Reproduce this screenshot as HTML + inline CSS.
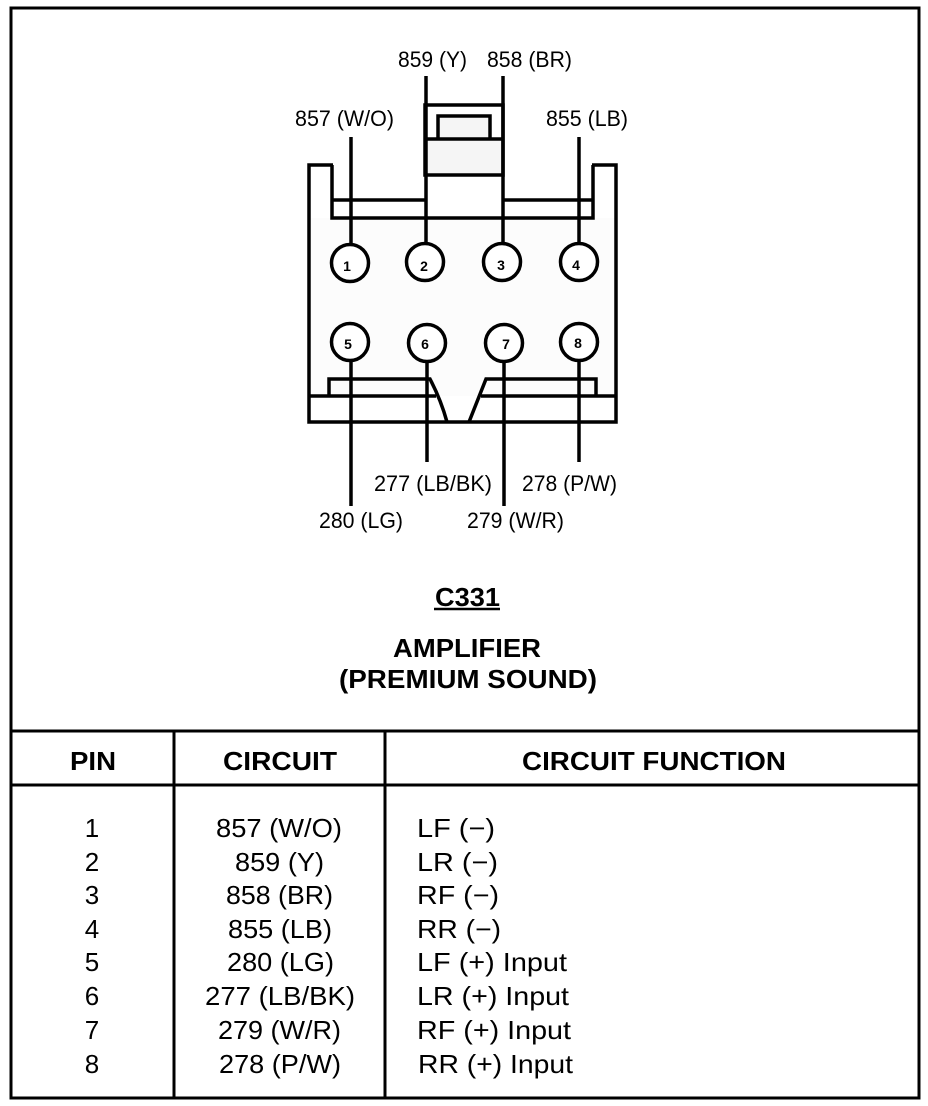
<!DOCTYPE html>
<html>
<head>
<meta charset="utf-8">
<style>
html,body{margin:0;padding:0;background:#fff;}
svg{display:block;}
text{font-family:"Liberation Sans",sans-serif;fill:#000;}
.l{font-size:22px;-webkit-text-stroke:0.5px #000;}
.b{font-size:26px;font-weight:bold;-webkit-text-stroke:0.4px #000;}
.t{font-size:26px;-webkit-text-stroke:0.5px #000;}
.n{font-size:14px;font-weight:bold;}
</style>
</head>
<body>
<svg width="928" height="1106" viewBox="0 0 928 1106" xmlns="http://www.w3.org/2000/svg">
<rect width="928" height="1106" fill="#fff"/>
<!-- outer frame -->
<g fill="none" stroke="#000" stroke-width="3">
<rect x="11" y="8" width="908" height="1090"/>
<line x1="11" y1="731" x2="919" y2="731"/>
<line x1="11" y1="785" x2="919" y2="785"/>
<line x1="174" y1="731" x2="174" y2="1098"/>
<line x1="385" y1="731" x2="385" y2="1098"/>
</g>
<!-- light shading -->
<rect x="311" y="218" width="304" height="178" fill="#fcfcfc"/>
<rect x="426" y="140" width="76" height="35" fill="#f5f5f5"/>
<rect x="439" y="118" width="49" height="21" fill="#f5f5f5"/>
<!-- connector body -->
<g fill="none" stroke="#000" stroke-width="3.5">
<polyline points="333,165 309,165 309,422 616,422 616,165 592,165"/>
<polyline points="332,165 332,218 593,218 593,165"/>
<line x1="332" y1="200" x2="425" y2="200"/>
<line x1="503" y1="200" x2="593" y2="200"/>
<rect x="425" y="105" width="78" height="70"/>
<line x1="425" y1="139" x2="503" y2="139"/>
<polyline points="438,139 438,116 490,116 490,139"/>
<line x1="309" y1="396" x2="436" y2="396"/>
<path d="M329,396 V379 H430 Q441,400 447,422"/>
<polyline points="469,422 486,379 596,379 596,396"/>
<line x1="481" y1="396" x2="616" y2="396"/>
</g>
<!-- wires -->
<g stroke="#000" stroke-width="3.5" fill="none">
<line x1="351" y1="137" x2="351" y2="243"/>
<line x1="426" y1="76" x2="426" y2="242"/>
<line x1="503" y1="76" x2="503" y2="242"/>
<line x1="579" y1="137" x2="579" y2="242"/>
<line x1="351" y1="361" x2="351" y2="506"/>
<line x1="427" y1="361" x2="427" y2="462"/>
<line x1="504" y1="361" x2="504" y2="506"/>
<line x1="579" y1="361" x2="579" y2="462"/>
</g>
<!-- pins -->
<g fill="#fff" stroke="#000" stroke-width="3.5">
<circle cx="350" cy="263" r="18.5"/>
<circle cx="425" cy="262" r="18.5"/>
<circle cx="502" cy="262" r="18.5"/>
<circle cx="579" cy="262" r="18.5"/>
<circle cx="350" cy="342" r="18.5"/>
<circle cx="427" cy="343" r="18.5"/>
<circle cx="504" cy="343" r="18.5"/>
<circle cx="579" cy="342" r="18.5"/>
</g>
<g text-anchor="middle">
<text class="n" x="347" y="271">1</text>
<text class="n" x="424" y="271">2</text>
<text class="n" x="501" y="270">3</text>
<text class="n" x="576" y="270">4</text>
<text class="n" x="348" y="349">5</text>
<text class="n" x="425" y="349">6</text>
<text class="n" x="506" y="349">7</text>
<text class="n" x="578" y="348">8</text>
</g>
<!-- labels -->
<text class="l" x="398" y="67" textLength="69" lengthAdjust="spacingAndGlyphs">859 (Y)</text>
<text class="l" x="487" y="67" textLength="85" lengthAdjust="spacingAndGlyphs">858 (BR)</text>
<text class="l" x="295" y="126" textLength="99" lengthAdjust="spacingAndGlyphs">857 (W/O)</text>
<text class="l" x="546" y="126" textLength="82" lengthAdjust="spacingAndGlyphs">855 (LB)</text>
<text class="l" x="374" y="491" textLength="118" lengthAdjust="spacingAndGlyphs">277 (LB/BK)</text>
<text class="l" x="522" y="491" textLength="95" lengthAdjust="spacingAndGlyphs">278 (P/W)</text>
<text class="l" x="319" y="528" textLength="84" lengthAdjust="spacingAndGlyphs">280 (LG)</text>
<text class="l" x="467" y="528" textLength="97" lengthAdjust="spacingAndGlyphs">279 (W/R)</text>
<!-- title -->
<text class="b" x="435" y="606" textLength="65" lengthAdjust="spacingAndGlyphs">C331</text>
<line x1="434" y1="609" x2="500" y2="609" stroke="#000" stroke-width="2.5"/>
<text class="b" x="393" y="657" textLength="148" lengthAdjust="spacingAndGlyphs">AMPLIFIER</text>
<text class="b" x="339" y="688" textLength="258" lengthAdjust="spacingAndGlyphs">(PREMIUM SOUND)</text>
<text class="b" x="70" y="770" textLength="46" lengthAdjust="spacingAndGlyphs">PIN</text>
<text class="b" x="223" y="770" textLength="114" lengthAdjust="spacingAndGlyphs">CIRCUIT</text>
<text class="b" x="522" y="770" textLength="264" lengthAdjust="spacingAndGlyphs">CIRCUIT FUNCTION</text>
<!-- table -->
<g text-anchor="middle">
<text class="t" x="92" y="837">1</text>
<text class="t" x="92" y="871">2</text>
<text class="t" x="92" y="904">3</text>
<text class="t" x="92" y="938">4</text>
<text class="t" x="92" y="971">5</text>
<text class="t" x="92" y="1005">6</text>
<text class="t" x="92" y="1039">7</text>
<text class="t" x="92" y="1073">8</text>
</g>
<text class="t" x="216" y="837" textLength="126" lengthAdjust="spacingAndGlyphs">857 (W/O)</text>
<text class="t" x="235" y="871" textLength="89" lengthAdjust="spacingAndGlyphs">859 (Y)</text>
<text class="t" x="226" y="904" textLength="107" lengthAdjust="spacingAndGlyphs">858 (BR)</text>
<text class="t" x="228" y="938" textLength="104" lengthAdjust="spacingAndGlyphs">855 (LB)</text>
<text class="t" x="227" y="971" textLength="107" lengthAdjust="spacingAndGlyphs">280 (LG)</text>
<text class="t" x="205" y="1005" textLength="150" lengthAdjust="spacingAndGlyphs">277 (LB/BK)</text>
<text class="t" x="218" y="1039" textLength="123" lengthAdjust="spacingAndGlyphs">279 (W/R)</text>
<text class="t" x="219" y="1073" textLength="122" lengthAdjust="spacingAndGlyphs">278 (P/W)</text>
<text class="t" x="417" y="837" textLength="78" lengthAdjust="spacingAndGlyphs">LF (−)</text>
<text class="t" x="417" y="871" textLength="81" lengthAdjust="spacingAndGlyphs">LR (−)</text>
<text class="t" x="417" y="904" textLength="82" lengthAdjust="spacingAndGlyphs">RF (−)</text>
<text class="t" x="417" y="938" textLength="84" lengthAdjust="spacingAndGlyphs">RR (−)</text>
<text class="t" x="417" y="971" textLength="150" lengthAdjust="spacingAndGlyphs">LF (+) Input</text>
<text class="t" x="417" y="1005" textLength="152" lengthAdjust="spacingAndGlyphs">LR (+) Input</text>
<text class="t" x="417" y="1039" textLength="154" lengthAdjust="spacingAndGlyphs">RF (+) Input</text>
<text class="t" x="418" y="1073" textLength="155" lengthAdjust="spacingAndGlyphs">RR (+) Input</text>
</svg>
</body>
</html>
